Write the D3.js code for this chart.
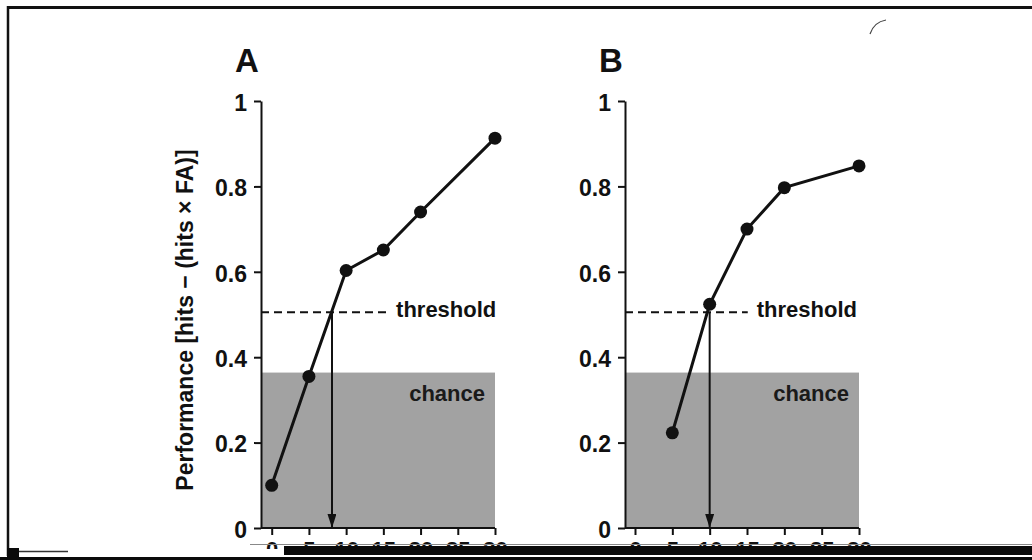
<!DOCTYPE html>
<html>
<head>
<meta charset="utf-8">
<script src="https://cdn.jsdelivr.net/npm/d3@7"></script>
<style>
  body { margin: 0; background: #fff; }
  text { font-family: "Liberation Sans", Arial, sans-serif; font-weight: bold; fill: #111; }
</style>
</head>
<body>
<div class="container"></div>
<script>
const w = 1032
const h = 560

// values
const xTicks = [0, 5, 10, 15, 20, 25, 30]
const yTicks = [0, 0.2, 0.4, 0.6, 0.8, 1]
const xA = [0, 5, 10, 15, 20, 30]
const yA = [0.1, 0.355, 0.603, 0.651, 0.74, 0.913]
const xB = [5, 10, 15, 20, 30]
const yB = [0.223, 0.524, 0.70, 0.797, 0.848]
const threshold = 0.505
const chance = 0.364
const crossA = 8.1
const crossB = 10
const panelLabels = ["A", "B"]

const svg = d3.select(".container")
              .append("svg")
              .attr("width", w)
              .attr("height", h)

svg.append("rect").attr("width", w).attr("height", h).attr("fill", "#fff")

svg.append("defs").append("marker")
    .attr("id", "arrow")
    .attr("viewBox", "0 0 10 10")
    .attr("refX", 10).attr("refY", 5)
    .attr("markerWidth", 7).attr("markerHeight", 4.5)
    .attr("markerUnits", "strokeWidth")
    .attr("orient", "auto")
    .attr("preserveAspectRatio", "none")
    .append("path")
      .attr("d", "M0,0 L10,5 L0,10 Z")
      .attr("fill", "#111")

const yScale = d3.scaleLinear().domain([0, 1]).range([528, 101])

const panels = [
  { label: panelLabels[0], xs: xA, ys: yA, cross: crossA, axisX: 261, x0: 271.7, x1: 495, dashEnd: 15.5, labelX: 235 },
  { label: panelLabels[1], xs: xB, ys: yB, cross: crossB, axisX: 625, x0: 635, x1: 859, dashEnd: 15.1, labelX: 599 }
]

panels.forEach(p => {
  const xScale = d3.scaleLinear().domain([0, 30]).range([p.x0, p.x1])
  const g = svg.append("g")

  // chance region
  g.append("rect")
    .attr("x", p.axisX)
    .attr("y", yScale(chance))
    .attr("width", xScale(30) - p.axisX)
    .attr("height", yScale(0) - yScale(chance))
    .attr("fill", "#a2a2a2")

  g.append("text")
    .attr("x", xScale(30) - 10)
    .attr("y", yScale(chance) + 28)
    .attr("text-anchor", "end")
    .style("font-size", "22px")
    .style("fill", "#1a1a1a")
    .text("chance")

  // threshold
  g.append("line")
    .attr("x1", p.axisX).attr("x2", xScale(p.dashEnd))
    .attr("y1", yScale(threshold)).attr("y2", yScale(threshold))
    .attr("stroke", "#111").attr("stroke-width", 2)
    .attr("stroke-dasharray", "8,5")

  g.append("text")
    .attr("x", xScale(p.dashEnd) + 9)
    .attr("y", yScale(threshold) + 5)
    .style("font-size", "22px")
    .text("threshold")

  // arrow down from crossing
  g.append("line")
    .attr("x1", xScale(p.cross)).attr("x2", xScale(p.cross))
    .attr("y1", yScale(threshold)).attr("y2", yScale(0))
    .attr("stroke", "#111").attr("stroke-width", 2)
    .attr("marker-end", "url(#arrow)")

  // axes
  const yAxis = d3.axisLeft(yScale)
                  .tickValues(yTicks)
                  .tickFormat(d3.format("~g"))
                  .tickSize(7)
                  .tickSizeOuter(0)
                  .tickPadding(7)
  const ya = g.append("g")
    .attr("transform", `translate(${p.axisX}, 0)`)
    .call(yAxis)
  ya.selectAll("text").style("font-size", "23px").attr("dy", "0.4em")
  ya.selectAll("line, path").attr("stroke", "#111").attr("stroke-width", 2)

  const xAxis = d3.axisBottom(xScale)
                  .tickValues(xTicks)
                  .tickSize(7)
                  .tickSizeOuter(0)
                  .tickPadding(6)
  const xa = g.append("g")
    .attr("transform", `translate(0, ${yScale(0)})`)
    .call(xAxis)
  xa.select(".domain").remove()
  xa.append("line")
    .attr("x1", p.axisX).attr("x2", xScale(30))
    .attr("stroke", "#111").attr("stroke-width", 2)
  xa.selectAll("text").style("font-size", "22px")
  xa.selectAll(".tick line").attr("stroke", "#111").attr("stroke-width", 2)

  // data line and dots
  const pts = p.xs.map((x, i) => [x, p.ys[i]])
  g.append("path")
    .datum(pts)
    .attr("fill", "none")
    .attr("stroke", "#111")
    .attr("stroke-width", 3)
    .attr("d", d3.line().x(d => xScale(d[0])).y(d => yScale(d[1])))

  g.selectAll("circle")
    .data(pts)
    .enter()
    .append("circle")
      .attr("cx", d => xScale(d[0]))
      .attr("cy", d => yScale(d[1]))
      .attr("r", 6.5)
      .attr("fill", "#111")

  g.append("text")
    .attr("x", p.labelX)
    .attr("y", 72)
    .style("font-size", "33px")
    .text(p.label)
})

// y axis title
svg.append("text")
  .attr("transform", "rotate(-90)")
  .attr("x", -320)
  .attr("y", 193)
  .attr("text-anchor", "middle")
  .style("font-size", "23px")
  .text("Performance [hits \u2212 (hits \u00d7 FA)]")

// scanned page frame
svg.append("rect").attr("x", 0).attr("y", 549).attr("width", w).attr("height", 11).attr("fill", "#fff")
svg.append("line").attr("x1", 7).attr("x2", w).attr("y1", 7.5).attr("y2", 7.5).attr("stroke", "#111").attr("stroke-width", 3)
svg.append("line").attr("x1", 8).attr("x2", 8).attr("y1", 6).attr("y2", 556).attr("stroke", "#111").attr("stroke-width", 2.5)
svg.append("line").attr("x1", 250).attr("x2", w).attr("y1", 544.5).attr("y2", 544.5).attr("stroke", "#888").attr("stroke-width", 1)
svg.append("line").attr("x1", 10).attr("x2", 68).attr("y1", 551.5).attr("y2", 551.5).attr("stroke", "#333").attr("stroke-width", 1.5)
svg.append("rect").attr("x", 284).attr("y", 546).attr("width", w - 284).attr("height", 9).attr("fill", "#0a0a0a")
svg.append("rect").attr("x", 0).attr("y", 557).attr("width", w).attr("height", 3).attr("fill", "#0a0a0a")
svg.append("rect").attr("x", 7).attr("y", 548).attr("width", 12).attr("height", 10).attr("fill", "#0a0a0a")
svg.append("path")
  .attr("d", "M870,34 Q874,22 886,20")
  .attr("fill", "none").attr("stroke", "#444").attr("stroke-width", 1.2)
</script>
</body>
</html>
